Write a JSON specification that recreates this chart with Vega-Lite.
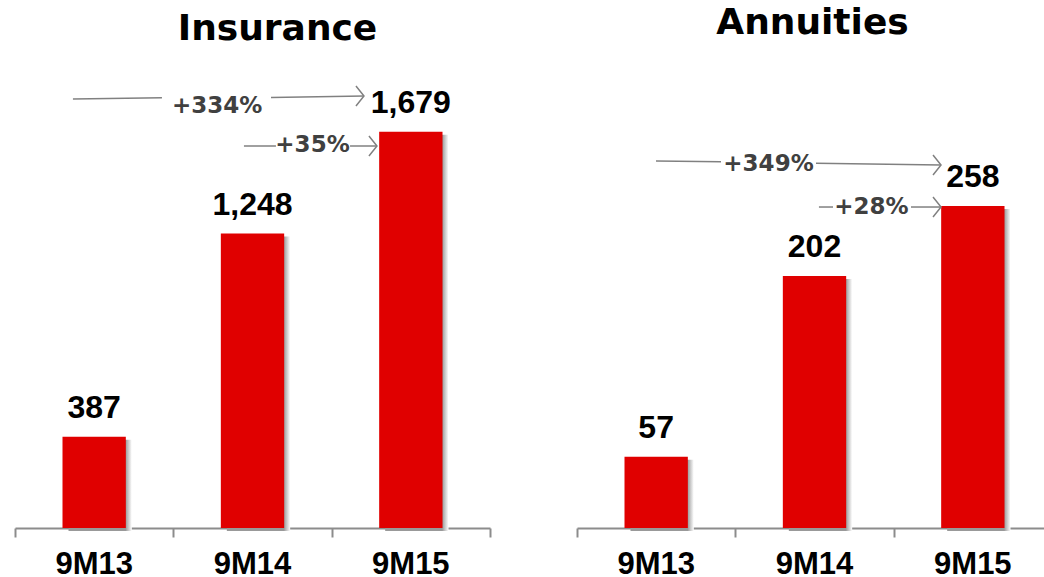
{
  "$schema": "https://vega.github.io/schema/vega-lite/v6.json",
  "padding": {"left": 14, "top": 5, "right": 0, "bottom": 0},
  "background": "white",
  "spacing": 85,
  "config": {
    "view": {"stroke": null},
    "font": "Liberation Sans",
    "title": {"font": "DejaVu Sans", "fontSize": 36, "fontWeight": "bold", "color": "#000000", "baseline": "alphabetic", "offset": 14}
  },
  "datasets": {
    "ins": [
      {"period": "9M13", "value": 387},
      {"period": "9M14", "value": 1248},
      {"period": "9M15", "value": 1679}
    ],
    "ann": [
      {"period": "9M13", "value": 57},
      {"period": "9M14", "value": 202},
      {"period": "9M15", "value": 258}
    ],
    "insSeg": [
      {"x": -0.134, "y": 1818, "x2": 0.428, "y2": 1824},
      {"x": 1.117, "y": 1825, "x2": 1.704, "y2": 1831},
      {"x": 0.946, "y": 1619, "x2": 1.148, "y2": 1619},
      {"x": 1.616, "y": 1619, "x2": 1.786, "y2": 1619}
    ],
    "insHead": [
      {"x": 1.704, "y": 1831},
      {"x": 1.786, "y": 1619}
    ],
    "insPct": [
      {"x": 0.776, "y": 1790, "text": "+334%"},
      {"x": 1.379, "y": 1625, "text": "+35%"}
    ],
    "annSeg": [
      {"x": -0.001, "y": 294.1, "x2": 0.4095, "y2": 293.4},
      {"x": 1.0095, "y": 292.2, "x2": 1.799, "y2": 290.9},
      {"x": 1.028, "y": 257.2, "x2": 1.117, "y2": 257.2},
      {"x": 1.6095, "y": 257.2, "x2": 1.799, "y2": 257.2}
    ],
    "annHead": [
      {"x": 1.799, "y": 290.9},
      {"x": 1.799, "y": 257.2}
    ],
    "annPct": [
      {"x": 0.7095, "y": 291.7, "text": "+349%"},
      {"x": 1.36, "y": 257.2, "text": "+28%"}
    ]
  },
  "hconcat": [
    {
      "width": 475,
      "height": 466,
      "title": {"text": "Insurance", "dx": 25},
      "resolve": {"scale": {"x": "independent"}, "axis": {"x": "independent"}},
      "layer": [
        {
          "data": {"name": "ins"},
          "encoding": {
            "x": {"field": "period", "type": "nominal", "sort": null,
              "scale": {"paddingInner": 0.6, "paddingOuter": 0.3},
              "axis": {"title": null, "orient": "bottom", "labelAngle": 0, "labelFont": "Liberation Sans", "labelFontSize": 31, "labelFontWeight": "bold", "labelColor": "#000000", "domainColor": "#8c8c8c", "domainWidth": 2, "ticks": false, "labelPadding": 21}},
            "y": {"field": "value", "type": "quantitative", "scale": {"domain": [0, 1975], "nice": false}, "axis": null}
          },
          "layer": [
            {"mark": {"type": "bar", "xOffset": 6, "yOffset": 3, "fill": {"gradient": "linear", "x1": 0, "y1": 0, "x2": 1, "y2": 0, "stops": [{"offset": 0, "color": "#999999"}, {"offset": 0.9, "color": "#999999"}, {"offset": 1, "color": "#ffffff"}]}}},
            {"mark": {"type": "bar", "color": "#e00000"}},
            {"mark": {"type": "text", "baseline": "alphabetic", "dy": -19, "fontSize": 32, "fontWeight": "bold", "color": "#000000"},
             "encoding": {"text": {"field": "value", "type": "quantitative", "format": ","}}}
          ]
        },
        {
          "layer": [
            {"data": {"name": "insSeg"},
             "mark": {"type": "rule", "color": "#808080", "strokeWidth": 1.5},
             "encoding": {
               "x": {"field": "x", "type": "quantitative", "scale": {"domain": [-0.5, 2.5], "nice": false, "zero": false},
                 "axis": {"orient": "bottom", "title": null, "values": [-0.5, 0.5, 1.5, 2.5], "labels": false, "domain": false, "grid": false, "ticks": true, "tickSize": 9, "tickWidth": 2, "tickColor": "#8c8c8c"}},
               "x2": {"field": "x2"},
               "y": {"field": "y", "type": "quantitative", "scale": {"domain": [0, 1975], "nice": false}, "axis": null},
               "y2": {"field": "y2"}
             }},
            {"data": {"name": "insHead"},
             "mark": {"type": "point", "shape": "M-0.8,-1L0,0L-0.8,1", "size": 400, "filled": false, "stroke": "#808080", "strokeWidth": 1.5, "opacity": 1},
             "encoding": {
               "x": {"field": "x", "type": "quantitative", "scale": {"domain": [-0.5, 2.5], "nice": false, "zero": false}},
               "y": {"field": "y", "type": "quantitative", "axis": null}
             }},
            {"data": {"name": "insPct"},
             "mark": {"type": "text", "baseline": "middle", "font": "DejaVu Sans", "fontSize": 23, "fontWeight": "bold", "color": "#404040"},
             "encoding": {
               "x": {"field": "x", "type": "quantitative", "scale": {"domain": [-0.5, 2.5], "nice": false, "zero": false}},
               "y": {"field": "y", "type": "quantitative", "axis": null},
               "text": {"field": "text"}
             }}
          ]
        }
      ]
    },
    {
      "width": 475,
      "height": 466,
      "title": {"text": "Annuities", "dx": -2, "offset": 20},
      "resolve": {"scale": {"x": "independent"}, "axis": {"x": "independent"}},
      "layer": [
        {
          "data": {"name": "ann"},
          "encoding": {
            "x": {"field": "period", "type": "nominal", "sort": null,
              "scale": {"paddingInner": 0.6, "paddingOuter": 0.3},
              "axis": {"title": null, "orient": "bottom", "labelAngle": 0, "labelFont": "Liberation Sans", "labelFontSize": 31, "labelFontWeight": "bold", "labelColor": "#000000", "domainColor": "#8c8c8c", "domainWidth": 2, "ticks": false, "labelPadding": 21}},
            "y": {"field": "value", "type": "quantitative", "scale": {"domain": [0, 373.4], "nice": false}, "axis": null}
          },
          "layer": [
            {"mark": {"type": "bar", "xOffset": 6, "yOffset": 3, "fill": {"gradient": "linear", "x1": 0, "y1": 0, "x2": 1, "y2": 0, "stops": [{"offset": 0, "color": "#999999"}, {"offset": 0.9, "color": "#999999"}, {"offset": 1, "color": "#ffffff"}]}}},
            {"mark": {"type": "bar", "color": "#e00000"}},
            {"mark": {"type": "text", "baseline": "alphabetic", "dy": -19, "fontSize": 32, "fontWeight": "bold", "color": "#000000"},
             "encoding": {"text": {"field": "value", "type": "quantitative", "format": ","}}}
          ]
        },
        {
          "layer": [
            {"data": {"name": "annSeg"},
             "mark": {"type": "rule", "color": "#808080", "strokeWidth": 1.5},
             "encoding": {
               "x": {"field": "x", "type": "quantitative", "scale": {"domain": [-0.5, 2.5], "nice": false, "zero": false},
                 "axis": {"orient": "bottom", "title": null, "values": [-0.5, 0.5, 1.5, 2.5], "labels": false, "domain": false, "grid": false, "ticks": true, "tickSize": 9, "tickWidth": 2, "tickColor": "#8c8c8c"}},
               "x2": {"field": "x2"},
               "y": {"field": "y", "type": "quantitative", "scale": {"domain": [0, 373.4], "nice": false}, "axis": null},
               "y2": {"field": "y2"}
             }},
            {"data": {"name": "annHead"},
             "mark": {"type": "point", "shape": "M-0.8,-1L0,0L-0.8,1", "size": 400, "filled": false, "stroke": "#808080", "strokeWidth": 1.5, "opacity": 1},
             "encoding": {
               "x": {"field": "x", "type": "quantitative", "scale": {"domain": [-0.5, 2.5], "nice": false, "zero": false}},
               "y": {"field": "y", "type": "quantitative", "axis": null}
             }},
            {"data": {"name": "annPct"},
             "mark": {"type": "text", "baseline": "middle", "font": "DejaVu Sans", "fontSize": 23, "fontWeight": "bold", "color": "#404040"},
             "encoding": {
               "x": {"field": "x", "type": "quantitative", "scale": {"domain": [-0.5, 2.5], "nice": false, "zero": false}},
               "y": {"field": "y", "type": "quantitative", "axis": null},
               "text": {"field": "text"}
             }}
          ]
        }
      ]
    }
  ]
}
